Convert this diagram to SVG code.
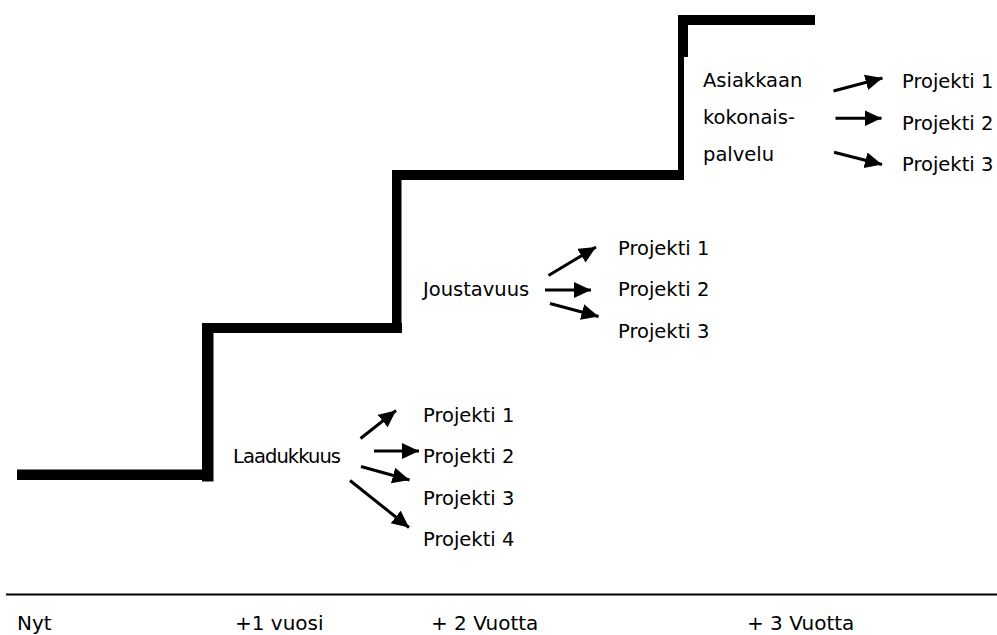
<svg xmlns="http://www.w3.org/2000/svg" width="997" height="635" viewBox="0 0 997 635">
<style>
.t{font-family:"DejaVu Sans","Verdana",sans-serif;font-size:19.5px;fill:#000}
.b{font-family:"DejaVu Sans","Verdana",sans-serif;font-size:20px;fill:#000}
.c{stroke:#000;stroke-width:3;fill:none;marker-end:url(#ah)}
.s{fill:#000}
</style>
<defs>
<marker id="ah" markerUnits="userSpaceOnUse" markerWidth="19" markerHeight="18" refX="17" refY="8" orient="auto">
<path d="M0,0 L17,8 L0,16 z" fill="#000"/>
</marker>
</defs>
<rect width="997" height="635" fill="#fff"/>
<g id="stairs">
<rect class="s" x="17" y="469.5" width="196" height="10.5"/>
<rect class="s" x="202" y="323" width="11.5" height="158.5"/>
<rect class="s" x="202" y="323" width="200" height="10"/>
<rect class="s" x="392" y="170" width="9.5" height="163"/>
<rect class="s" x="392" y="170" width="292" height="10"/>
<rect class="s" x="678" y="15" width="6" height="165"/>
<rect class="s" x="678" y="15" width="10" height="42"/>
<rect class="s" x="678" y="15" width="137" height="10"/>
</g>
<g id="axis">
<rect class="s" x="6" y="593.5" width="991" height="2"/>
<text class="b" x="17" y="630">Nyt</text>
<text class="b" x="235" y="630">+1 vuosi</text>
<text class="b" x="431" y="630">+ 2 Vuotta</text>
<text class="b" x="747" y="630">+ 3 Vuotta</text>
</g>
<g id="laadukkuus">
<text class="t" x="233" y="463" textLength="108">Laadukkuus</text>
</g>
<g id="laadukkuus-projektit">
<text class="t" x="423" y="421.5">Projekti 1</text>
<text class="t" x="423" y="463">Projekti 2</text>
<text class="t" x="423" y="504.5">Projekti 3</text>
<text class="t" x="423" y="546">Projekti 4</text>
</g>
<g id="joustavuus">
<text class="t" x="423" y="296">Joustavuus</text>
</g>
<g id="joustavuus-projektit">
<text class="t" x="618" y="254.5">Projekti 1</text>
<text class="t" x="618" y="296">Projekti 2</text>
<text class="t" x="618" y="338">Projekti 3</text>
</g>
<g id="asiakkaan-kokonaispalvelu">
<text class="t" x="703" y="87">Asiakkaan</text>
<text class="t" x="703" y="124">kokonais-</text>
<text class="t" x="703" y="161">palvelu</text>
</g>
<g id="asiakkaan-projektit">
<text class="t" x="902" y="87.5">Projekti 1</text>
<text class="t" x="902" y="129.5">Projekti 2</text>
<text class="t" x="902" y="171">Projekti 3</text>
</g>
<g id="connectors">
<line class="c" x1="360.5" y1="438.5" x2="396" y2="410.5"/>
<line class="c" x1="374" y1="451" x2="419" y2="451"/>
<line class="c" x1="361" y1="466.5" x2="409.5" y2="480"/>
<line class="c" x1="350" y1="480.5" x2="409" y2="527.5"/>
<line class="c" x1="548.5" y1="275.5" x2="596" y2="247"/>
<line class="c" x1="545" y1="290" x2="591" y2="290"/>
<line class="c" x1="550" y1="303.5" x2="598.5" y2="316.5"/>
<line class="c" x1="833.5" y1="91" x2="882.5" y2="78"/>
<line class="c" x1="835.5" y1="118.3" x2="881.5" y2="118.3"/>
<line class="c" x1="834" y1="152.3" x2="882" y2="164.5"/>
</g>
</svg>
